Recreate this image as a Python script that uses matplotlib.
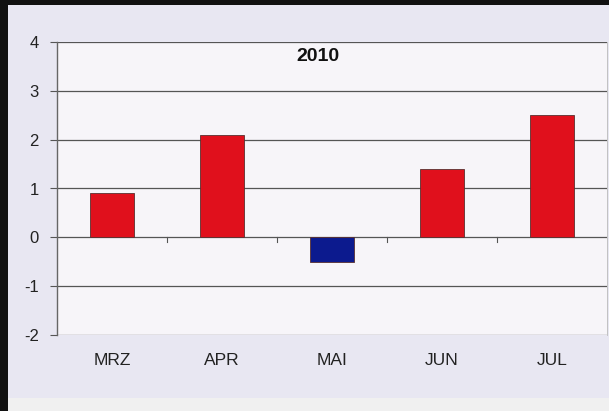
import matplotlib.pyplot as plt
from matplotlib.patches import Rectangle

months = ["MRZ", "APR", "MAI", "JUN", "JUL"]
values = [0.9, 2.1, -0.5, 1.4, 2.5]
y_ticks = [-2, -1, 0, 1, 2, 3, 4]

plt.rcParams["font.family"] = ["Liberation Sans", "DejaVu Sans"]

W, H = 609, 411
fig = plt.figure(figsize=(W / 100, H / 100), dpi=100)
fig.patch.set_facecolor("#f0f0f2")

# scanned page: dark frame top/left, lavender sheet, grey strip below
fig.patches.append(Rectangle((0, 0), 1, 1, transform=fig.transFigure,
                             facecolor="#111111", zorder=-3))
fig.patches.append(Rectangle((8 / W, 13 / H), 1, (H - 18) / H,
                             transform=fig.transFigure,
                             facecolor="#e8e7f2", zorder=-2))
fig.patches.append(Rectangle((8 / W, 0), 1, 13 / H, transform=fig.transFigure,
                             facecolor="#f0f0f0", zorder=-2))

ax = fig.add_axes([57 / W, (H - 335) / H, 550 / W, 293 / H])
ax.set_facecolor("#f7f5f9")

colors = ["#e0101c" if v >= 0 else "#0c1a8e" for v in values]
x = range(len(months))
ax.bar(x, values, width=0.4, color=colors, edgecolor="#5a3030",
       linewidth=0.6, zorder=3)

ax.set_xlim(-0.5, len(months) - 0.5)
ax.set_ylim(-2, 4)
ax.set_yticks(y_ticks)
ax.set_yticklabels([str(t) for t in y_ticks], fontsize=12, color="#222222")
ax.yaxis.grid(True, color="#555555", linewidth=0.9, zorder=1)
ax.tick_params(axis="y", length=5, color="#555555", pad=8)

ax.set_xticks(list(x))
ax.set_xticklabels(months, fontsize=12.5, color="#222222")
ax.tick_params(axis="x", length=0, pad=13)

# small category separators on the zero line
for b in range(1, len(months)):
    ax.plot([b - 0.5, b - 0.5], [0, -0.1], color="#555555",
            linewidth=0.8, zorder=2)

for side in ["top", "bottom"]:
    ax.spines[side].set_visible(False)
ax.spines["left"].set_color("#666666")
ax.spines["right"].set_color("#bbbbbb")
ax.spines["left"].set_linewidth(1.0)
ax.spines["right"].set_linewidth(0.6)

ax.text(2 - 0.13, 3.7, "2010", ha="center", va="center",
        fontsize=14, fontweight="bold", color="#111111")

fig.savefig("out.png", dpi=100, facecolor=fig.get_facecolor())
